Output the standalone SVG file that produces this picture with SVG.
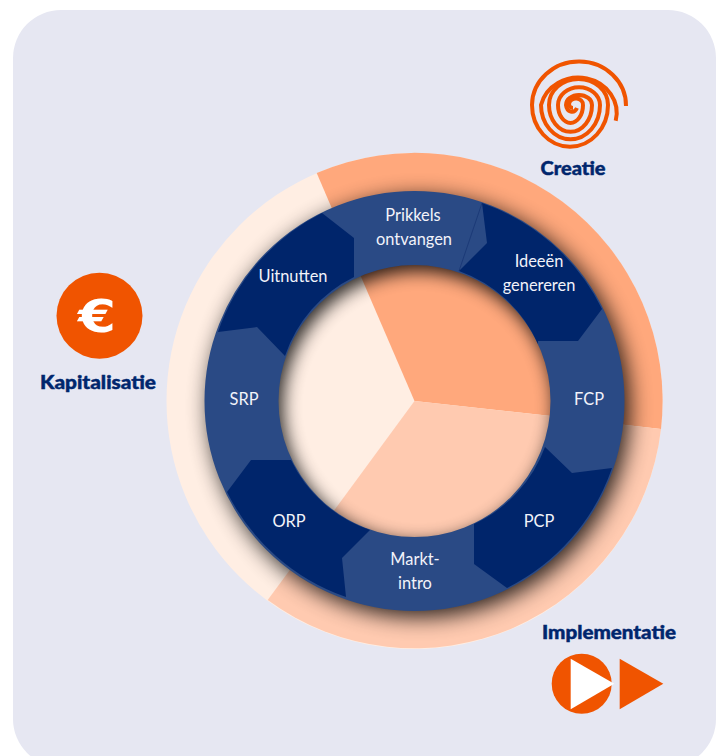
<svg xmlns="http://www.w3.org/2000/svg" width="722" height="756" viewBox="0 0 722 756">
<style>
.l{font-family:"Lato","Open Sans",sans-serif;font-size:16.4px;fill:#f2f3fa;text-anchor:middle}
.t{font-family:"Lato","DejaVu Sans",sans-serif;font-weight:900;font-size:18.5px;fill:#00266d;stroke:#00266d;stroke-width:.45px;text-anchor:middle}
.o{fill:#f05400}
.d{fill:#00256b}
</style>
<defs>
<clipPath id="outerClip"><circle cx="414.5" cy="401" r="248"/></clipPath>
<clipPath id="innerClip"><circle cx="414.5" cy="401" r="137.5"/></clipPath>
<filter id="b1" x="-30%" y="-30%" width="160%" height="160%"><feGaussianBlur stdDeviation="11"/></filter>
<filter id="b2" x="-30%" y="-30%" width="160%" height="160%"><feGaussianBlur stdDeviation="9"/></filter>
</defs>
<rect id="bg" x="13" y="10" width="703" height="757" rx="48" fill="#e6e7f2"/>
<g id="outer-ring">
<circle cx="414.5" cy="401" r="248" fill="#ffeee3"/>
<path d="M316.7,173 A248,248 0 0 1 661,429 L414.5,401Z" fill="#ffa87c"/>
<path d="M661,429 A248,248 0 0 1 267.7,600 L414.5,401Z" fill="#ffcab0"/>
</g>
<g clip-path="url(#outerClip)"><circle cx="419.5" cy="407" r="210" fill="#000" opacity=".85" filter="url(#b1)"/></g>
<g id="inner-pie">
<circle cx="414.5" cy="401" r="137.5" fill="#ffeee3"/>
<path d="M360.1,274.7 A137.5,137.5 0 0 1 551.2,416 L414.5,401Z" fill="#ffa87c"/>
<path d="M551.2,416 A137.5,137.5 0 0 1 333.2,511.7 L414.5,401Z" fill="#ffcab0"/>
</g>
<g clip-path="url(#innerClip)"><circle cx="418.5" cy="407" r="166" fill="none" stroke="#000" stroke-width="60" opacity=".85" filter="url(#b2)"/></g>
<g id="process-ring">
<circle cx="414.5" cy="401" r="173" fill="none" stroke="#2a4a85" stroke-width="74"/>
</g>
<g id="uitnutten"><path class="d" d="M322,213 L354,238 L354,277 A136,136 0 0 0 285,356 L257,327 L218,332 A210,210 0 0 1 322,213Z"/><text class="l" x="293" y="282">Uitnutten</text></g>
<g id="prikkels"><path d="M482,203 L459,271" stroke="#1c3a78" stroke-width="1" fill="none"/><text class="l"><tspan x="413" y="221">Prikkels</tspan><tspan x="414" y="245">ontvangen</tspan></text></g>
<g id="ideeen"><path class="d" d="M482,203 L487,243 L459,271 A136,136 0 0 1 538,344 L538,341 L578,341 L602,309 A210,210 0 0 0 482,203Z"/><text class="l"><tspan x="539" y="267">Ideeën</tspan><tspan x="539" y="291">genereren</tspan></text></g>
<g id="fcp"><text class="l" x="589" y="405">FCP</text></g>
<g id="pcp"><path class="d" d="M545,447 L572,473 L612,468 A210,210 0 0 1 507,588 L474,564 L474,524 A136,136 0 0 0 545,447Z"/><text class="l" x="539" y="527">PCP</text></g>
<g id="markt"><text class="l"><tspan x="415" y="565">Markt-</tspan><tspan x="415" y="589">intro</tspan></text></g>
<g id="orp"><path class="d" d="M251,460 L291,460 A136,136 0 0 0 370,530 L342,558 L346,597 A210,210 0 0 1 227,492Z"/><text class="l" x="289" y="527">ORP</text></g>
<g id="srp"><text class="l" x="244" y="405">SRP</text></g>
<g id="creatie">
<g transform="translate(570 105)" fill="none" stroke="#f05400" stroke-width="4">
<path d="M56,1 A47,44 0 1 0 -38,0 A38,41.7 0 0 0 38,0 A29.5,26 0 0 0 -21,0 A21.5,26.7 0 0 0 22,0 A13,10 0 0 0 -4,0 A6,8 0 0 0 7,3"/>
<path d="M45.7,15.7 A38,35 0 1 0 -29,0 A29.5,34.3 0 0 0 30,0 A21,17.7 0 0 0 -12,0 A12.5,18 0 0 0 13,0 A7,6 0 0 0 -1,-1 A4,4 0 0 0 3,3"/>
</g>
<text class="t" x="573" y="175" textLength="65" lengthAdjust="spacingAndGlyphs">Creatie</text>
</g>
<g id="kapitalisatie">
<circle class="o" cx="99.5" cy="315.7" r="43"/>
<text x="97" y="332" font-family="DejaVu Sans,sans-serif" font-weight="700" font-size="45" fill="#fff" text-anchor="middle" textLength="38" lengthAdjust="spacingAndGlyphs">€</text>
<text class="t" x="98" y="389" textLength="116" lengthAdjust="spacingAndGlyphs">Kapitalisatie</text>
</g>
<g id="implementatie">
<text class="t" x="609" y="639" textLength="134" lengthAdjust="spacingAndGlyphs">Implementatie</text>
<circle class="o" cx="581.7" cy="683.7" r="30"/>
<path d="M570.7,658.7 V709.3 L614.3,683.7Z" fill="#fff"/>
<path class="o" d="M619.7,658.7 V709.3 L663.3,683.7Z"/>
</g>
</svg>
